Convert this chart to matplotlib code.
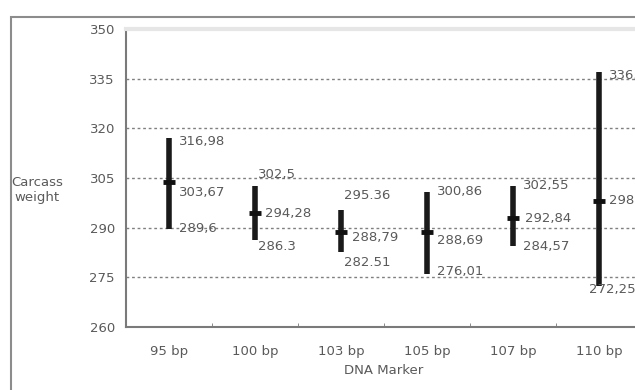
import numpy as np
import matplotlib.pyplot as plt
from matplotlib.patches import Rectangle

markers = ["95 bp", "100 bp", "103 bp", "105 bp", "107 bp", "110 bp"]
high = [316.98, 302.5, 295.36, 300.86, 302.55, 336.93]
mean = [303.67, 294.28, 288.79, 288.69, 292.84, 298.14]
low = [289.6, 286.3, 282.51, 276.01, 284.57, 272.25]
high_text = ["316,98", "302,5", "295.36", "300,86", "302,55", "336,93"]
mean_text = ["303,67", "294,28", "288,79", "288,69", "292,84", "298,14"]
low_text = ["289,6", "286.3", "282.51", "276,01", "284,57", "272,25"]
y_ticks = [260, 275, 290, 305, 320, 335, 350]

# label offsets in pixels (dx, dy) for high / mean / low
high_off = [(10, -3), (3, 12), (3, 14), (10, 0), (10, 1), (10, -3)]
mean_off = [(10, -10), (10, 0), (11, -6), (10, -8), (12, 0), (10, 0)]
low_off = [(10, 0), (3, -7), (3, -10), (10, 2), (10, -1), (-10, -3)]

txt = "#5a5a5a"
W, H = 635, 390
fig = plt.figure(figsize=(W / 100, H / 100), dpi=100)
fig.patch.set_facecolor("white")

# outer chart frame (cropped on the right)
fig.patches.append(Rectangle((11 / W, -0.1), 1.0, (390 - 17) / H + 0.1,
                             transform=fig.transFigure, fill=False,
                             edgecolor="#8c8c8c", lw=1.5, clip_on=False))

ax = fig.add_axes([126 / W, (H - 327) / H, (642 - 126) / W, (327 - 29) / H])
x = np.arange(len(markers))

ax.vlines(x, low, high, color="#1a1a1a", lw=4, zorder=3)
ax.plot(x, mean, ls="none", marker="_", ms=9, mew=3.5, color="#111111", zorder=4)

for i in range(len(markers)):
    for val, s, off in ((high[i], high_text[i], high_off[i]),
                        (mean[i], mean_text[i], mean_off[i]),
                        (low[i], low_text[i], low_off[i])):
        ax.annotate(s, (x[i], val), xytext=off, textcoords="offset pixels",
                    ha="left", va="center", fontsize=9.5, color=txt,
                    annotation_clip=False)

ax.set_xlim(-0.5, len(markers) - 0.5)
ax.set_ylim(260, 350)
ax.set_yticks(y_ticks)
ax.set_yticklabels([str(v) for v in y_ticks], fontsize=9.5, color=txt)
ax.tick_params(axis="y", length=0, pad=8)
ax.set_xticks(x)
ax.set_xticklabels(markers, fontsize=9.5, color=txt)
ax.tick_params(axis="x", which="major", length=0, pad=13)
ax.set_xticks(x[:-1] + 0.5, minor=True)
ax.tick_params(axis="x", which="minor", direction="in", length=3, color="#777777")

for v in y_ticks[1:-1]:
    ax.axhline(v, color="#808080", lw=1, ls=(0, (2, 2)), zorder=1)

ax.spines["left"].set_color("#7a7a7a")
ax.spines["left"].set_linewidth(1.5)
ax.spines["bottom"].set_color("#7a7a7a")
ax.spines["bottom"].set_linewidth(1.5)
ax.spines["top"].set_color("#e6e6e6")
ax.spines["top"].set_linewidth(3)
ax.spines["right"].set_visible(False)

ax.set_xlabel("DNA Marker", fontsize=9.5, color=txt, labelpad=4)
fig.text(37 / W, 1 - 190 / H, "Carcass\nweight", ha="center", va="center",
         fontsize=9.5, color=txt, linespacing=1.2)

fig.savefig("out.png", dpi=100)
